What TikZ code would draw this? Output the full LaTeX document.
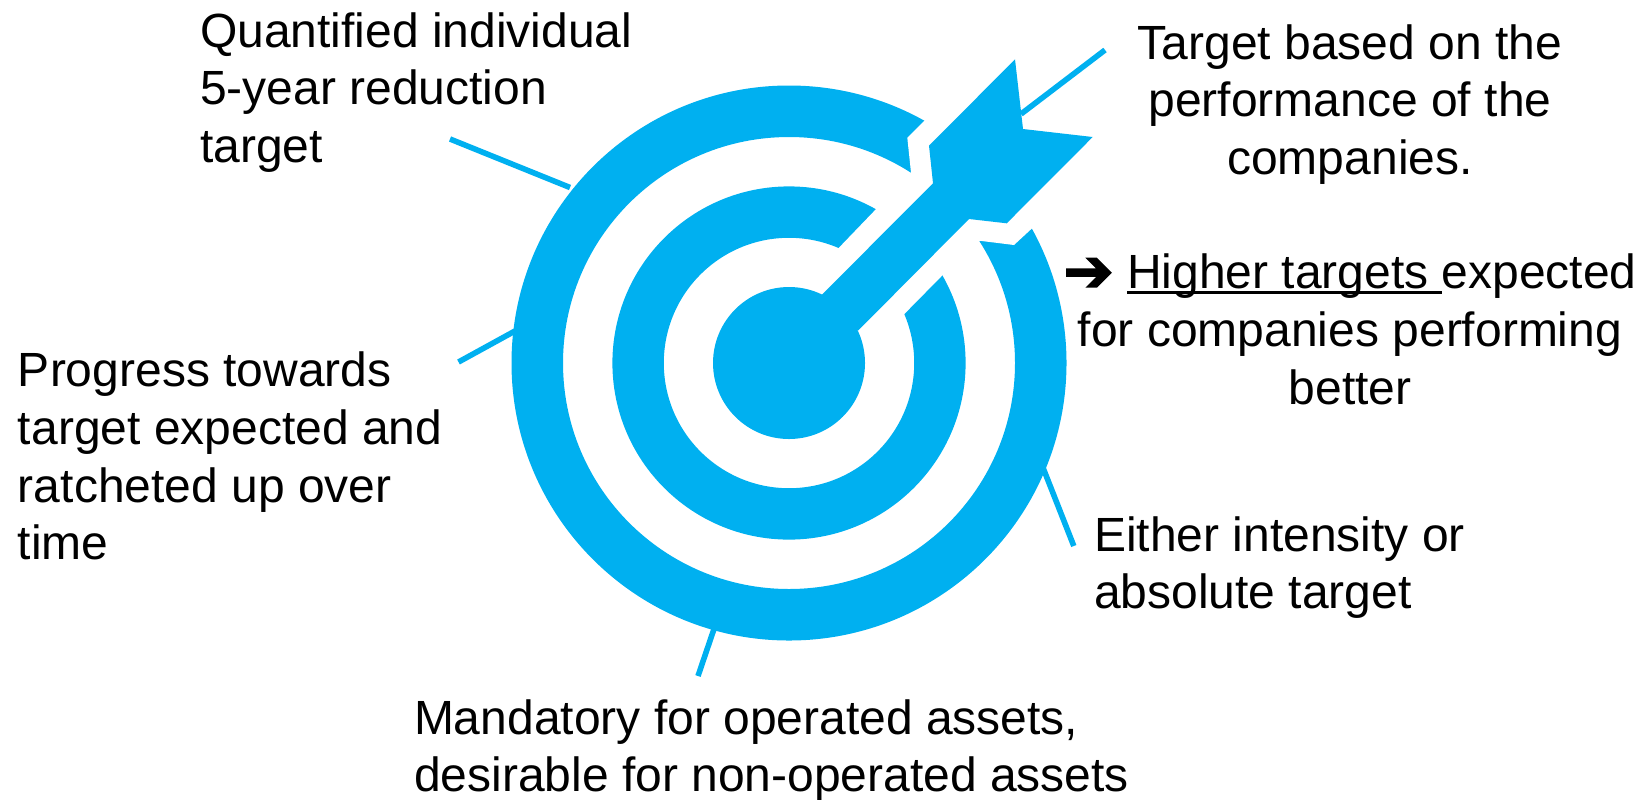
\documentclass[tikz,border=0pt]{standalone}
\usepackage{fontspec}
\setmainfont{Liberation Sans}
\newfontfamily\symfont[FakeBold=2.5]{DejaVu Sans}
\definecolor{tblue}{HTML}{00B0F0}
\newcommand\ulrule[1]{\setbox0\hbox{#1}\rlap{\rule[-0.105em]{\wd0}{0.045em}}\box0}
\newcommand\fs{\rule{0pt}{20pt}}
\tikzset{
  x=0.5pt,y=-0.5pt,
  lbl/.style={inner sep=0pt,outer sep=0pt,font=\fontsize{24}{28.9}\selectfont},
  lblL/.style={lbl,anchor=north west,align=left},
  lblC/.style={lbl,anchor=north,align=center},
  leader/.style={draw=tblue,line width=2.8pt},
  shapefill/.style={fill=tblue,draw=none},
}
\begin{document}
\begin{tikzpicture}
\useasboundingbox (0,0) rectangle (1641,799);
% leader ends
\coordinate (qa) at (450,139); \coordinate (qb) at (570,187.5);
\coordinate (ta) at (1105,50); \coordinate (tb) at (1021,114);
\coordinate (pa) at (458.5,362); \coordinate (pb) at (515,331);
\coordinate (ea) at (1073.8,546); \coordinate (eb) at (1043.5,469);
\coordinate (ma) at (698,676); \coordinate (mb) at (713.8,629.5);
\draw[leader] (qa) -- (qb);
\draw[leader] (ta) -- (tb);
\draw[leader] (pa) -- (pb);
\draw[leader] (ea) -- (eb);
\draw[leader] (ma) -- (mb);
% rings
\coordinate (c) at (789,363);
\fill[shapefill,even odd rule] (c) circle (138.75pt) (c) circle (113pt);
\fill[shapefill,even odd rule] (c) circle (88.3pt) (c) circle (62.6pt);
\fill[shapefill] (c) circle (38pt);
% white cut
\fill[white] (965,80) -- (907.3,137.7) -- (911,172.7) -- (839.3,247.3) -- (815,272)
  -- (880,338) -- (905,313.3) -- (942.7,275) -- (979.3,240.7) -- (1014,245) -- (1031.3,229)
  -- (1090,170) -- cycle;
% arrow
\fill[shapefill] (1015,59.3) -- (1023,129) -- (1092.7,137) -- (1006.7,223.3) -- (969,219)
  -- (858,330.7) -- (821.6,295) -- (933,183.3) -- (929,145.7) -- cycle;
% labels
\node[lblL] (quant) at (200,7) {\fs Quantified individual\\5-year reduction\\target};
\node[lblC] (perf) at (1350,19) {\fs Target based on the\\performance of the\\companies.};
\node[lblC] (high) at (1350,248.5) {\fs\raisebox{-1.5pt}{\symfont\fontsize{30}{30}\selectfont ➔} \ulrule{Higher targets }expected\\for companies performing\\better};
\node[lblL] (prog) at (18,346.5) {\fs Progress towards\\target expected and\\ratcheted up over\\time};
\node[lblL] (either) at (1094,511) {\fs Either intensity or\\absolute target};
\node[lblL] (mand) at (414,694) {\fs Mandatory for operated assets,\\desirable for non-operated assets};
\end{tikzpicture}
\end{document}
